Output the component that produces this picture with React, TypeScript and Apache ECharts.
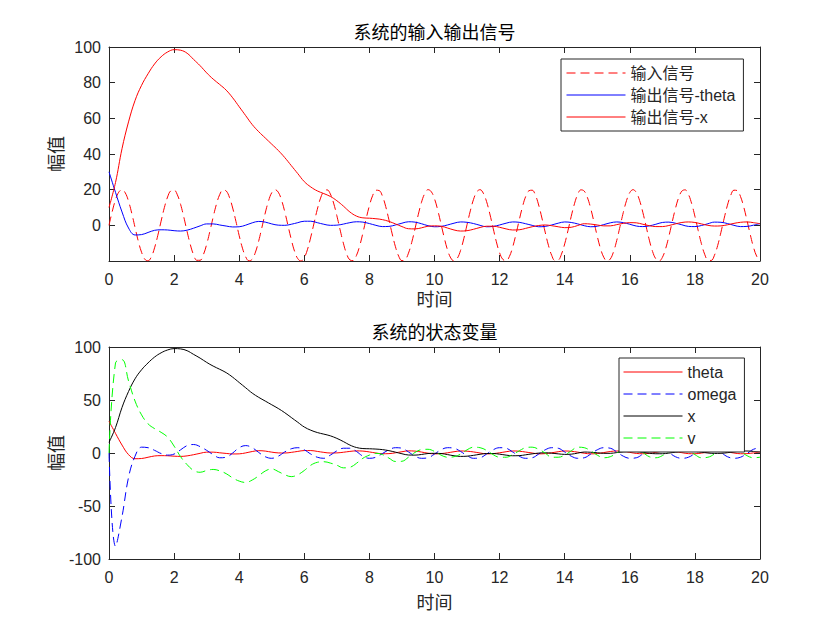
import React, { useEffect, useRef } from "react";
import * as echarts from "echarts";

// Time samples (s) for the state / output curves
const time = [
  0, 0.2, 0.4, 0.6, 0.8, 1.0, 1.2, 1.4, 1.6, 1.8, 2.0,
  2.2, 2.4, 2.6, 2.8, 3.0, 3.2, 3.4, 3.6, 3.8, 4.0,
  4.2, 4.4, 4.6, 4.8, 5.0, 5.2, 5.4, 5.6, 5.8, 6.0,
  6.2, 6.4, 6.6, 6.8, 7.0, 7.2, 7.4, 7.6, 7.8, 8.0,
  8.2, 8.4, 8.6, 8.8, 9.0, 9.2, 9.4, 9.6, 9.8, 10.0,
  10.2, 10.4, 10.6, 10.8, 11.0, 11.2, 11.4, 11.6, 11.8, 12.0,
  12.2, 12.4, 12.6, 12.8, 13.0, 13.2, 13.4, 13.6, 13.8, 14.0,
  14.2, 14.4, 14.6, 14.8, 15.0, 15.2, 15.4, 15.6, 15.8, 16.0,
  16.2, 16.4, 16.6, 16.8, 17.0, 17.2, 17.4, 17.6, 17.8, 18.0,
  18.2, 18.4, 18.6, 18.8, 19.0, 19.2, 19.4, 19.6, 19.8, 20.0,
];

// Time samples (s) for the input signal
const inputTime = [
  0, 0.1, 0.2, 0.3, 0.4, 0.5, 0.6, 0.7, 0.8, 0.9,
  1.0, 1.1, 1.2, 1.3, 1.4, 1.5, 1.6, 1.7, 1.8, 1.9,
  2.0, 2.1, 2.2, 2.3, 2.4, 2.5, 2.6, 2.7, 2.8, 2.9,
  3.0, 3.1, 3.2, 3.3, 3.4, 3.5, 3.6, 3.7, 3.8, 3.9,
  4.0, 4.1, 4.2, 4.3, 4.4, 4.5, 4.6, 4.7, 4.8, 4.9,
  5.0, 5.1, 5.2, 5.3, 5.4, 5.5, 5.6, 5.7, 5.8, 5.9,
  6.0, 6.1, 6.2, 6.3, 6.4, 6.5, 6.6, 6.7, 6.8, 6.9,
  7.0, 7.1, 7.2, 7.3, 7.4, 7.5, 7.6, 7.7, 7.8, 7.9,
  8.0, 8.1, 8.2, 8.3, 8.4, 8.5, 8.6, 8.7, 8.8, 8.9,
  9.0, 9.1, 9.2, 9.3, 9.4, 9.5, 9.6, 9.7, 9.8, 9.9,
  10.0, 10.1, 10.2, 10.3, 10.4, 10.5, 10.6, 10.7, 10.8, 10.9,
  11.0, 11.1, 11.2, 11.3, 11.4, 11.5, 11.6, 11.7, 11.8, 11.9,
  12.0, 12.1, 12.2, 12.3, 12.4, 12.5, 12.6, 12.7, 12.8, 12.9,
  13.0, 13.1, 13.2, 13.3, 13.4, 13.5, 13.6, 13.7, 13.8, 13.9,
  14.0, 14.1, 14.2, 14.3, 14.4, 14.5, 14.6, 14.7, 14.8, 14.9,
  15.0, 15.1, 15.2, 15.3, 15.4, 15.5, 15.6, 15.7, 15.8, 15.9,
  16.0, 16.1, 16.2, 16.3, 16.4, 16.5, 16.6, 16.7, 16.8, 16.9,
  17.0, 17.1, 17.2, 17.3, 17.4, 17.5, 17.6, 17.7, 17.8, 17.9,
  18.0, 18.1, 18.2, 18.3, 18.4, 18.5, 18.6, 18.7, 18.8, 18.9,
  19.0, 19.1, 19.2, 19.3, 19.4, 19.5, 19.6, 19.7, 19.8, 19.9,
  20.0,
];

// 输入信号
const inputSignal = [
  0, 7.8, 14.3, 18.6, 20.0, 18.2, 13.5, 6.7, -1.2, -8.9,
  -15.1, -19.0, -19.9, -17.7, -12.6, -5.6, 2.3, 9.9, 15.9, 19.4,
  19.8, 17.1, 11.7, 4.5, -3.5, -10.9, -16.6, -19.6, -19.6, -16.4,
  -10.7, -3.3, 4.6, 11.8, 17.2, 19.8, 19.3, 15.7, 9.7, 2.2,
  -5.8, -12.8, -17.7, -19.9, -19.0, -15.0, -8.7, -1.0, 6.9, 13.6,
  18.3, 20.0, 18.6, 14.2, 7.6, -0.2, -7.9, -14.5, -18.7, -20.0,
  -18.1, -13.4, -6.5, 1.3, 9.0, 15.3, 19.1, 19.9, 17.6, 12.5,
  5.4, -2.5, -10.0, -16.0, -19.4, -19.8, -17.0, -11.6, -4.3, 3.7,
  11.0, 16.7, 19.7, 19.5, 16.4, 10.6, 3.1, -4.8, -12.0, -17.3,
  -19.8, -19.3, -15.6, -9.6, -2.0, 5.9, 12.9, 17.8, 20.0, 18.9,
  14.9, 8.5, 0.8, -7.0, -13.8, -18.3, -20.0, -18.5, -14.1, -7.5,
  0.4, 8.1, 14.6, 18.8, 20.0, 18.0, 13.3, 6.4, -1.5, -9.2,
  -15.4, -19.1, -19.9, -17.5, -12.3, -5.2, 2.7, 10.2, 16.1, 19.4,
  19.7, 16.9, 11.4, 4.1, -3.8, -11.2, -16.8, -19.7, -19.5, -16.2,
  -10.4, -3.0, 5.0, 12.1, 17.4, 19.9, 19.2, 15.5, 9.4, 1.8,
  -6.1, -13.0, -17.9, -20.0, -18.9, -14.8, -8.4, -0.6, 7.2, 13.9,
  18.4, 20.0, 18.4, 14.0, 7.3, -0.5, -8.3, -14.7, -18.8, -20.0,
  -18.0, -13.1, -6.2, 1.7, 9.3, 15.5, 19.2, 19.9, 17.4, 12.2,
  5.1, -2.8, -10.3, -16.2, -19.5, -19.7, -16.8, -11.3, -3.9, 4.0,
  11.3, 16.8, 19.7, 19.5, 16.2, 10.3, 2.8, -5.1, -12.3, -17.4,
  -19.9,
];

// theta
const theta = [
  30, 18.5, 7.5, -1.5, -5.4, -5.2, -4.0, -2.8, -2.5, -2.6, -3.0,
  -3.2, -2.7, -1.6, -0.3, 0.8, 0.8, 0.2, -0.4, -0.9, -0.8,
  0.1, 1.4, 2.2, 1.8, 0.8, 0.1, 0.0, 0.6, 1.5, 2.3,
  2.3, 1.5, 0.6, 0.0, 0.1, 0.7, 1.5, 2.0, 1.8, 1.0,
  0.0, -0.7, -0.6, 0.2, 1.2, 2.0, 1.8, 0.9, -0.2, -0.8,
  -0.6, 0.2, 1.2, 1.9, 1.7, 1.0, 0.0, -0.8, -0.6, 0.2,
  1.2, 1.9, 1.7, 0.9, 0.0, -0.8, -0.6, 0.2, 1.2, 1.9,
  1.6, 0.8, -0.2, -0.8, -0.5, 0.4, 1.4, 1.9, 1.5, 0.6,
  -0.4, -0.7, -0.3, 0.6, 1.6, 1.8, 1.2, 0.3, -0.6, -0.7,
  -0.1, 0.9, 1.8, 1.7, 1.0, 0.0, -0.7, -0.6, 0.1, 1.0,
];

// omega
const omega = [
  0, -88, -60, -23, -3, 5.5, 5, 2.5, -0.5, -2, -1,
  3, 7, 8, 6, 2.5, -1.5, -4.5, -4, 0, 5,
  7, 5, 0.5, -3.5, -5, -3, 1, 4, 5, 3,
  -1, -4, -5, -2, 2, 4.5, 4.5, 1.5, -3, -5,
  -4, -0.5, 3, 5, 4.5, 1, -3, -5, -4.5, -1,
  3, 5, 4.5, 1.5, -2.5, -5, -4.5, -1, 3, 5,
  4.5, 1, -3, -5, -4.5, -1, 3, 5, 4.5, 1,
  -3, -5, -4.5, -1, 3, 5, 4.5, 1, -3, -5,
  -4.5, -1, 3, 5, 4, 0.5, -3.5, -5, -4, -0.5,
  3.5, 5, 4, 0.5, -3.5, -5, -4, -0.5, 3.5, 5,
];

// x
const xPos = [
  10, 24, 43, 58, 70, 78.5, 85, 90.5, 94.5, 97.2, 98.5,
  98.2, 96.5, 93, 89.5, 85.5, 82, 79, 75.8, 71.5, 66.5,
  61.5, 56.5, 52.5, 49, 45.5, 42, 38, 33.5, 29, 24.5,
  21.5, 19.3, 17.8, 16.2, 13.8, 10.8, 7.5, 5.2, 4.2, 4.0,
  3.7, 3.2, 2.2, 0.8, -0.7, -1.9, -2.0, -1.4, -0.5, -0.3,
  -0.5, -1.5, -2.6, -3.2, -3.0, -2.2, -1.2, -0.5, -0.5, -1.1,
  -2.0, -2.6, -2.5, -1.7, -0.8, -0.1, 0.2, -0.2, -0.8, -1.3,
  -1.1, -0.1, 0.9, 0.7, 0.2, -0.3, -0.3, 0.4, 1.1, 1.5,
  1.4, 0.6, -0.2, -0.7, -0.7, -0.1, 0.8, 1.6, 1.9, 1.6,
  0.8, 0, -0.4, -0.3, 0.3, 1.1, 1.7, 1.9, 1.5, 0.9,
];

// v
const vel = [
  0, 85, 88, 68, 49, 36, 27.5, 23, 19.5, 15, 6.5,
  -3.5, -11, -16.5, -18.2, -16.5, -15.5, -16.8, -19.5, -23.5, -26.5,
  -27.8, -25.5, -21.5, -17, -15, -17.5, -20.5, -22.3, -20.5, -16.5,
  -11.5, -8.8, -8.2, -9.5, -11.5, -14, -13.5, -9.8, -5, -2,
  -0.3, -1.5, -4.8, -8, -7.8, -4, 0.5, 3.2, 3.5, 1.5,
  -2, -4, -3.5, -1, 3, 5.5, 5, 2.5, -1.5, -4,
  -4, -1.5, 2, 5, 5.5, 3.5, 0, -4, -4, -2,
  2, 5.5, 5, 2, -2, -4.5, -3.5, 0, 4, 5.5,
  4, 0.5, -3.5, -4.5, -2.5, 1.5, 5, 5, 2.5, -1.5,
  -4.5, -4, -1, 3, 5.5, 4.5, 1.5, -2.5, -4.5, -4,
];

const topTitle = "系统的输入输出信号";
const bottomTitle = "系统的状态变量";
const xName = "时间";
const yName = "幅值";
const topLegend = ["输入信号", "输出信号-theta", "输出信号-x"];
const bottomLegend = ["theta", "omega", "x", "v"];

const AX = "#262626";
const FONT = "'Liberation Sans', Arial, 'Noto Sans CJK SC', sans-serif";

const pair = (ts: number[], ys: number[]) => ts.map((t, i) => [t, ys[i]]);

function xAxisDef(gridIndex: number, position: "top" | "bottom", nameGap: number) {
  const main = position === "bottom";
  return {
    type: "value",
    gridIndex,
    position,
    min: 0,
    max: 20,
    interval: 2,
    axisLine: { show: true, onZero: false, lineStyle: { color: AX, width: 1 } },
    axisTick: { show: true, inside: true, length: 6, lineStyle: { color: AX } },
    axisLabel: {
      show: main,
      margin: 10,
      fontSize: 16,
      color: AX,
      fontFamily: FONT,
    },
    splitLine: { show: false },
    name: main ? xName : "",
    nameLocation: "middle",
    nameGap,
    nameMoveOverlap: false,
    nameTextStyle: { fontSize: 18, color: AX, fontFamily: FONT },
  };
}

function yAxisDef(
  gridIndex: number,
  position: "left" | "right",
  min: number,
  max: number,
  interval: number,
  hideMin: boolean
) {
  const main = position === "left";
  return {
    type: "value",
    gridIndex,
    position,
    min,
    max,
    interval,
    axisLine: { show: true, onZero: false, lineStyle: { color: AX, width: 1 } },
    axisTick: { show: true, inside: true, length: 6, lineStyle: { color: AX } },
    axisLabel: {
      show: main,
      margin: 8,
      fontSize: 16,
      color: AX,
      fontFamily: FONT,
      formatter: (v: number) => (hideMin && v === min ? "" : String(v)),
    },
    splitLine: { show: false },
    name: main ? yName : "",
    nameLocation: "middle",
    nameRotate: 90,
    nameGap: 43,
    nameMoveOverlap: false,
    nameTextStyle: { fontSize: 18, color: AX, fontFamily: FONT },
  };
}

function lineSeries(
  name: string,
  ts: number[],
  data: number[],
  color: string,
  dashed: boolean,
  xi: number,
  yi: number
) {
  return {
    name,
    type: "line",
    xAxisIndex: xi,
    yAxisIndex: yi,
    data: pair(ts, data),
    smooth: 0.4,
    symbol: "none",
    showSymbol: false,
    lineStyle: { color, width: 1, type: dashed ? [9, 5] : "solid" },
    itemStyle: { color },
    emphasis: { disabled: true },
    z: 3,
  };
}

const legendBase = {
  orient: "vertical",
  itemWidth: 59,
  itemHeight: 14,
  itemGap: 6,
  borderColor: AX,
  borderWidth: 1,
  backgroundColor: "#fff",
  selectedMode: false,
  itemStyle: { opacity: 0, borderWidth: 0 },
  lineStyle: { width: 1 },
  textStyle: { fontSize: 16, color: AX, fontFamily: FONT },
  z: 10,
};

const option = {
  animation: false,
  backgroundColor: "#fff",
  title: [
    {
      text: topTitle,
      left: 434.5,
      top: 24,
      textAlign: "center",
      padding: 0,
      textStyle: { fontSize: 18, fontWeight: "normal", color: "#000", fontFamily: FONT },
    },
    {
      text: bottomTitle,
      left: 434.5,
      top: 324,
      textAlign: "center",
      padding: 0,
      textStyle: { fontSize: 18, fontWeight: "normal", color: "#000", fontFamily: FONT },
    },
  ],
  legend: [
    {
      ...legendBase,
      data: topLegend,
      left: 561,
      top: 59,
      padding: [6, 8, 6, 5],
    },
    {
      ...legendBase,
      data: bottomLegend,
      left: 619,
      top: 358,
      padding: [6, 8, 6, 4],
    },
  ],
  grid: [
    { left: 109, right: 80, top: 47, height: 214, containLabel: false },
    { left: 109, right: 80, top: 347, height: 212, containLabel: false },
  ],
  xAxis: [
    xAxisDef(0, "bottom", 30),
    xAxisDef(0, "top", 30),
    xAxisDef(1, "bottom", 35),
    xAxisDef(1, "top", 35),
  ],
  yAxis: [
    yAxisDef(0, "left", -20, 100, 20, true),
    yAxisDef(0, "right", -20, 100, 20, true),
    yAxisDef(1, "left", -100, 100, 50, false),
    yAxisDef(1, "right", -100, 100, 50, false),
  ],
  series: [
    lineSeries(topLegend[0], inputTime, inputSignal, "#ff0000", true, 0, 0),
    lineSeries(topLegend[1], time, theta, "#0000ff", false, 0, 0),
    lineSeries(topLegend[2], time, xPos, "#ff0000", false, 0, 0),
    lineSeries(bottomLegend[0], time, theta, "#ff0000", false, 2, 2),
    lineSeries(bottomLegend[1], time, omega, "#0000ff", true, 2, 2),
    lineSeries(bottomLegend[2], time, xPos, "#000000", false, 2, 2),
    lineSeries(bottomLegend[3], time, vel, "#00ff00", true, 2, 2),
  ],
};

export default function App() {
  const ref = useRef<HTMLDivElement>(null);
  useEffect(() => {
    document.body.style.margin = "0";
    const chart = echarts.init(ref.current!, null, {
      renderer: "svg",
      width: 840,
      height: 630,
    });
    chart.setOption(option as any);
    return () => chart.dispose();
  }, []);
  return (
    <div
      ref={ref}
      style={{ width: 840, height: 630, background: "#fff", position: "relative" }}
    />
  );
}
